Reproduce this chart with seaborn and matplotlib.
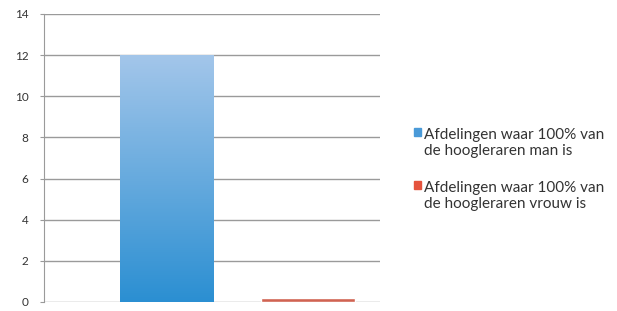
import numpy as np
import pandas as pd
import matplotlib
matplotlib.use("Agg")
import matplotlib.pyplot as plt
import seaborn as sns
from matplotlib.colors import LinearSegmentedColormap

series = ["Afdelingen waar 100% van\nde hoogleraren man is",
          "Afdelingen waar 100% van\nde hoogleraren vrouw is"]
values = [12, 0.2]
colors = ["#4a9ad8", "#e5533d"]
yticks = [0, 2, 4, 6, 8, 10, 12, 14]

sns.set_style("white")
plt.rcParams['font.family'] = ['Lato', 'DejaVu Sans']

d = pd.DataFrame({"serie": series, "aantal": values})

fig = plt.figure(figsize=(6.17, 3.11), dpi=100)
ax = fig.add_axes([44/617, 9/311, 336/617, 288/311])

sns.barplot(data=d, x="serie", y="aantal", hue="serie", palette=colors,
            width=0.66, ax=ax, legend=False, zorder=3)

# gradient fill on the blue bar (light at top, darker at the bottom)
blue = ax.patches[0]
x0, y0 = blue.get_x(), blue.get_y()
w, h = blue.get_width(), blue.get_height()
cmap = LinearSegmentedColormap.from_list("b", ["#2b8fd2", "#a3c6ea"])
grad = np.linspace(0, 1, 256).reshape(-1, 1)
im = ax.imshow(grad, cmap=cmap, origin="lower", aspect="auto",
               extent=[x0, x0 + w, y0, y0 + h], zorder=4)
im.set_clip_path(blue)
blue.set_facecolor("none")
blue.set_edgecolor("none")

ax.set_xlim(-0.866, 1.509)
ax.set_ylim(0, 14)
ax.set_yticks(yticks)
ax.set_xticks([])
ax.set_xlabel("")
ax.set_ylabel("")
ax.yaxis.grid(True, color="#9a9a9a", linewidth=1.0, zorder=0)
ax.set_axisbelow(True)
for s in ["top", "right", "bottom"]:
    ax.spines[s].set_visible(False)
ax.spines["left"].set_color("#9a9a9a")
ax.tick_params(axis="y", direction="out", length=3, color="#9a9a9a",
               labelsize=8.5, labelcolor="#333333", pad=8, left=True)

handles = [plt.Rectangle((0, 0), 1, 1, color=c) for c in ["#4a9ad8", "#e5533d"]]
leg = fig.legend(handles, series, loc="center left", bbox_to_anchor=(400/617, 0.455),
                 frameon=False, fontsize=11, handlelength=0.45, handleheight=0.45,
                 handletextpad=0.25, labelspacing=1.45, labelcolor="#333333")
for t in leg.get_texts():
    t.set_linespacing(1.25)
# put the square next to the first text line, as in the original
for col in leg._legend_handle_box.get_children():
    for row in col.get_children():
        row.align = "top"

fig.savefig("out.png", dpi=100)
